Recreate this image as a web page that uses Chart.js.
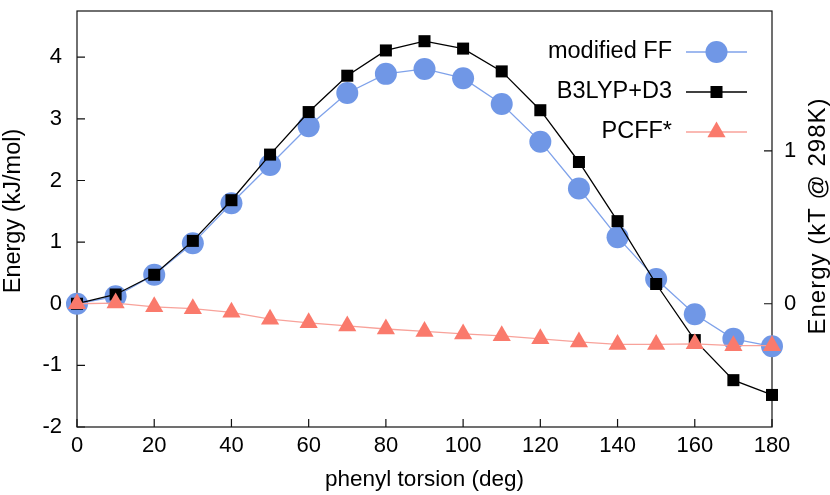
<!DOCTYPE html>
<html><head><meta charset="utf-8">
<script src="https://cdn.jsdelivr.net/npm/chart.js@4.4.0/dist/chart.umd.min.js"></script>
<style>html,body{margin:0;padding:0;background:#fff}#wrap{width:830px;height:495px}</style>
</head><body><div id="wrap"><canvas id="c" width="830" height="495"></canvas></div>
<script>
// ---- data ----
const torsion = [0,10,20,30,40,50,60,70,80,90,100,110,120,130,140,150,160,170,180];
const modifiedFF = [0,0.12,0.47,0.98,1.63,2.25,2.88,3.42,3.73,3.81,3.66,3.24,2.63,1.87,1.08,0.40,-0.17,-0.57,-0.69];
const b3lypD3 = [0,0.15,0.47,1.02,1.68,2.42,3.11,3.70,4.11,4.26,4.14,3.77,3.14,2.30,1.34,0.32,-0.59,-1.24,-1.48];
const pcff = [0,0.01,-0.05,-0.08,-0.14,-0.25,-0.31,-0.36,-0.41,-0.45,-0.49,-0.52,-0.57,-0.62,-0.66,-0.66,-0.65,-0.68,-0.68];
const seriesNames = ['modified FF','B3LYP+D3','PCFF*'];
const xTicks = [0,20,40,60,80,100,120,140,160,180];
const yTicks = [-2,-1,0,1,2,3,4];
const y2Ticks = [0,1];
const KT298 = 2.479; // kJ/mol per kT at 298 K
const Y_MIN = -2, Y_MAX = 4.75;

const FONT = '"Liberation Sans", Arial, Helvetica, sans-serif';
const FS = 22;
const BLUE = '#7097e6', BLUE_LINE = '#7fa2ea';
const RED = '#fa7a6c', RED_LINE = '#f8a29a';

function pts(ys){ return torsion.map((x,i)=>({x:x,y:ys[i]})); }
function setTicks(arr){ return function(s){ s.ticks = arr.map(v=>({value:v})); }; }
function fixV(w){ return function(s){ s.width=w; s.paddingTop=0; s.paddingBottom=0; }; }

function drawMarker(ctx, style, x, y, r, color){
  ctx.save(); ctx.fillStyle = color; ctx.beginPath();
  if (style==='circle'){ ctx.arc(x,y,r,0,Math.PI*2); }
  else if (style==='rect'){ const h=Math.SQRT1_2*r; ctx.rect(x-h,y-h,2*h,2*h); }
  else if (style==='triangle'){
    ctx.moveTo(x, y-r); ctx.lineTo(x+0.866*r, y+0.5*r); ctx.lineTo(x-0.866*r, y+0.5*r); ctx.closePath();
  }
  ctx.fill(); ctx.restore();
}

const framePlugin = {
  id:'frame',
  beforeDatasetsDraw(chart){
    const {ctx, chartArea:a, scales} = chart;
    ctx.save();
    ctx.strokeStyle = '#111'; ctx.lineWidth = 1.2;
    ctx.strokeRect(a.left, a.top, a.right-a.left, a.bottom-a.top);
    const tl = 8;
    ctx.beginPath();
    scales.x.ticks.forEach(t=>{ const px=scales.x.getPixelForValue(t.value); ctx.moveTo(px,a.bottom); ctx.lineTo(px,a.bottom-tl); });
    scales.y.ticks.forEach(t=>{ const py=scales.y.getPixelForValue(t.value); ctx.moveTo(a.left,py); ctx.lineTo(a.left+tl,py); });
    scales.y2.ticks.forEach(t=>{ const py=scales.y2.getPixelForValue(t.value); ctx.moveTo(a.right,py); ctx.lineTo(a.right-tl,py); });
    ctx.stroke();
    ctx.restore();
  },
  afterDraw(chart){
    const {ctx, chartArea:a} = chart;
    ctx.save();
    ctx.fillStyle = '#000';
    ctx.textAlign='center'; ctx.textBaseline='middle';
    ctx.font = '22.5px '+FONT;
    ctx.fillText('phenyl torsion (deg)', (a.left+a.right)/2, 480);
    ctx.font = '23.5px '+FONT;
    ctx.save(); ctx.translate(14, 211); ctx.rotate(-Math.PI/2); ctx.fillText('Energy (kJ/mol)',0,0); ctx.restore();
    ctx.font = '24px '+FONT;
    ctx.save(); ctx.translate(818, 216); ctx.rotate(-Math.PI/2);
    try { ctx.letterSpacing = '1px'; } catch(e) {}
    ctx.fillText('Energy (kT @ 298K)',0,0); ctx.restore();
    try { ctx.letterSpacing = '0px'; } catch(e) {}
    // legend (gnuplot style: text left, sample right)
    const rows = [
      {name:seriesNames[0], style:'circle', r:11, c:BLUE, lc:BLUE_LINE, lw:1.3},
      {name:seriesNames[1], style:'rect', r:8.5, c:'#000', lc:'#000', lw:1.3},
      {name:seriesNames[2], style:'triangle', r:10.5, c:RED, lc:RED_LINE, lw:1.3}
    ];
    ctx.font = '23.5px '+FONT;
    ctx.textAlign='right';
    rows.forEach((rw,i)=>{
      const y = 52 + i*40;
      ctx.fillStyle='#000';
      ctx.fillText(rw.name, 672, y);
      ctx.strokeStyle=rw.lc; ctx.lineWidth=rw.lw;
      ctx.beginPath(); ctx.moveTo(686,y); ctx.lineTo(747,y); ctx.stroke();
      drawMarker(ctx, rw.style, 716.5, y, rw.r, rw.c);
    });
    ctx.restore();
  }
};

new Chart(document.getElementById('c'), {
  type:'line',
  data:{ datasets:[
    {label:seriesNames[0], data:pts(modifiedFF), order:2, borderColor:BLUE_LINE, borderWidth:1.3,
     pointStyle:'circle', pointRadius:11, pointBackgroundColor:BLUE, pointBorderWidth:0, pointHoverRadius:11, tension:0, clip:false},
    {label:seriesNames[1], data:pts(b3lypD3), order:1, borderColor:'#000', borderWidth:1.3,
     pointStyle:'rect', pointRadius:8.5, pointBackgroundColor:'#000', pointBorderWidth:0, pointHoverRadius:8.5, tension:0, clip:false},
    {label:seriesNames[2], data:pts(pcff), order:0, borderColor:RED_LINE, borderWidth:1.3,
     pointStyle:'triangle', pointRadius:10.5, pointBackgroundColor:RED, pointBorderWidth:0, pointHoverRadius:10.5, tension:0, clip:false}
  ]},
  options:{
    responsive:false, animation:false, devicePixelRatio:1,
    layout:{padding:{top:-1,left:0,right:0,bottom:0}},
    plugins:{legend:{display:false}, tooltip:{enabled:false}},
    events:[],
    scales:{
      x:{type:'linear', position:'bottom', min:0, max:180,
         afterBuildTicks:setTicks(xTicks), afterFit(s){ s.height=68; s.paddingLeft=0; s.paddingRight=0; },
         grid:{display:false, drawTicks:false}, border:{display:false},
         ticks:{color:'#000', font:{family:FONT, size:FS}, padding:6, maxRotation:0, autoSkip:false}},
      y:{type:'linear', position:'left', min:Y_MIN, max:Y_MAX,
         afterBuildTicks:setTicks(yTicks), afterFit:fixV(77),
         grid:{display:false, drawTicks:false}, border:{display:false},
         ticks:{color:'#000', font:{family:FONT, size:FS}, padding:15, autoSkip:false}},
      y2:{type:'linear', position:'right', min:Y_MIN/KT298, max:Y_MAX/KT298,
         afterBuildTicks:setTicks(y2Ticks), afterFit:fixV(58),
         grid:{display:false, drawTicks:false}, border:{display:false},
         ticks:{color:'#000', font:{family:FONT, size:FS}, padding:12, autoSkip:false}}
    }
  },
  plugins:[framePlugin]
});
</script></body></html>
